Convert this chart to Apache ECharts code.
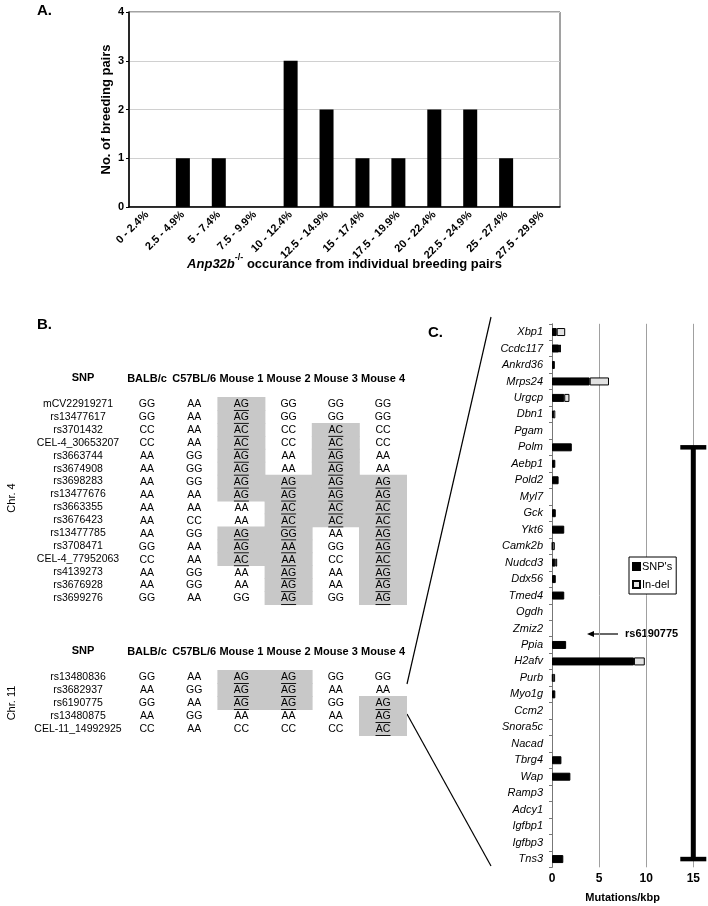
<!DOCTYPE html>
<html>
<head>
<meta charset="utf-8">
<script src="https://cdn.jsdelivr.net/npm/echarts@6/dist/echarts.min.js"></script>
<style>html,body{margin:0;padding:0;background:#fff}#c{width:708px;height:906px}</style>
</head>
<body>
<div id="c"></div>
<script>
// ---------- Panel A data ----------
const aCategories = ['0 - 2.4%', '2.5 - 4.9%', '5 - 7.4%', '7.5 - 9.9%', '10 - 12.4%', '12.5 - 14.9%',
  '15 - 17.4%', '17.5 - 19.9%', '20 - 22.4%', '22.5 - 24.9%', '25 - 27.4%', '27.5 - 29.9%'];
const aCounts = [0, 1, 1, 0, 3, 2, 1, 1, 2, 2, 1, 0];

// ---------- Panel B data ----------
const tableColumns = ['BALB/c', 'C57BL/6', 'Mouse 1', 'Mouse 2', 'Mouse 3', 'Mouse 4'];
const chr4SNPs = ['mCV22919271', 'rs13477617', 'rs3701432', 'CEL-4_30653207', 'rs3663744', 'rs3674908',
  'rs3698283', 'rs13477676', 'rs3663355', 'rs3676423', 'rs13477785', 'rs3708471', 'CEL-4_77952063',
  'rs4139273', 'rs3676928', 'rs3699276'];
const chr4Genotypes = [
  ['GG', 'AA', 'AG', 'GG', 'GG', 'GG'],
  ['GG', 'AA', 'AG', 'GG', 'GG', 'GG'],
  ['CC', 'AA', 'AC', 'CC', 'AC', 'CC'],
  ['CC', 'AA', 'AC', 'CC', 'AC', 'CC'],
  ['AA', 'GG', 'AG', 'AA', 'AG', 'AA'],
  ['AA', 'GG', 'AG', 'AA', 'AG', 'AA'],
  ['AA', 'GG', 'AG', 'AG', 'AG', 'AG'],
  ['AA', 'AA', 'AG', 'AG', 'AG', 'AG'],
  ['AA', 'AA', 'AA', 'AC', 'AC', 'AC'],
  ['AA', 'CC', 'AA', 'AC', 'AC', 'AC'],
  ['AA', 'GG', 'AG', 'GG', 'AA', 'AG'],
  ['GG', 'AA', 'AG', 'AA', 'GG', 'AG'],
  ['CC', 'AA', 'AC', 'AA', 'CC', 'AC'],
  ['AA', 'GG', 'AA', 'AG', 'AA', 'AG'],
  ['AA', 'GG', 'AA', 'AG', 'AA', 'AG'],
  ['GG', 'AA', 'GG', 'AG', 'GG', 'AG']
];
const chr4Shaded = [
  [0, 0, 1, 0, 0, 0], [0, 0, 1, 0, 0, 0], [0, 0, 1, 0, 1, 0], [0, 0, 1, 0, 1, 0],
  [0, 0, 1, 0, 1, 0], [0, 0, 1, 0, 1, 0], [0, 0, 1, 1, 1, 1], [0, 0, 1, 1, 1, 1],
  [0, 0, 0, 1, 1, 1], [0, 0, 0, 1, 1, 1], [0, 0, 1, 1, 0, 1], [0, 0, 1, 1, 0, 1],
  [0, 0, 1, 1, 0, 1], [0, 0, 0, 1, 0, 1], [0, 0, 0, 1, 0, 1], [0, 0, 0, 1, 0, 1]
];
const chr11SNPs = ['rs13480836', 'rs3682937', 'rs6190775', 'rs13480875', 'CEL-11_14992925'];
const chr11Genotypes = [
  ['GG', 'AA', 'AG', 'AG', 'GG', 'GG'],
  ['AA', 'GG', 'AG', 'AG', 'AA', 'AA'],
  ['GG', 'AA', 'AG', 'AG', 'GG', 'AG'],
  ['AA', 'GG', 'AA', 'AA', 'AA', 'AG'],
  ['CC', 'AA', 'CC', 'CC', 'CC', 'AC']
];
const chr11Shaded = [
  [0, 0, 1, 1, 0, 0], [0, 0, 1, 1, 0, 0], [0, 0, 1, 1, 0, 1], [0, 0, 0, 0, 0, 1], [0, 0, 0, 0, 0, 1]
];

// ---------- Panel C data ----------
const genes = ['Xbp1', 'Ccdc117', 'Ankrd36', 'Mrps24', 'Urgcp', 'Dbn1', 'Pgam', 'Polm', 'Aebp1', 'Pold2',
  'Myl7', 'Gck', 'Ykt6', 'Camk2b', 'Nudcd3', 'Ddx56', 'Tmed4', 'Ogdh', 'Zmiz2', 'Ppia', 'H2afv', 'Purb',
  'Myo1g', 'Ccm2', 'Snora5c', 'Nacad', 'Tbrg4', 'Wap', 'Ramp3', 'Adcy1', 'Igfbp1', 'Igfbp3', 'Tns3'];
const snpValues = [0.5, 0.75, 0.3, 4.0, 1.3, 0.1, 0, 2.1, 0.35, 0.7, 0, 0.4, 1.3, 0.05, 0.35, 0.4, 1.3,
  0, 0, 1.5, 8.7, 0.08, 0.35, 0, 0, 0, 1.0, 1.95, 0, 0, 0, 0, 1.2];
const indelValues = [0.9, 0.2, 0, 2.05, 0.55, 0.25, 0, 0, 0, 0, 0, 0, 0, 0.25, 0.2, 0, 0,
  0, 0, 0, 1.15, 0.25, 0, 0, 0, 0, 0, 0, 0, 0, 0, 0, 0];
const xTicksC = [0, 15, 5];           // min, max, interval
const regionBar = { x: 15, from: 'Polm', to: 'Tns3' };

// ---------- build ----------
const FONT = '"Liberation Sans", Arial, sans-serif';
function cells(genos, shaded) {
  const out = [];
  genos.forEach((row, r) => row.forEach((g, c) => out.push({ value: [c, r], text: g, shaded: shaded[r][c] })));
  return out;
}
const cells4 = cells(chr4Genotypes, chr4Shaded);
const cells11 = cells(chr11Genotypes, chr11Shaded);

function shadeSeries(list, xi) {
  return {
    type: 'custom', xAxisIndex: xi, yAxisIndex: xi, z: 1, silent: true,
    data: list.map(d => d.value), encode: { x: 0, y: 1 },
    renderItem: function (params, api) {
      const d = list[params.dataIndex];
      if (!d.shaded) return null;
      const p = api.coord([api.value(0), api.value(1)]);
      const s = api.size([1, 1]);
      return { type: 'rect', shape: { x: p[0] - s[0] / 2 - 0.4, y: p[1] - s[1] / 2 - 0.4, width: s[0] + 0.8, height: s[1] + 0.8 },
        style: { fill: '#c8c8c8' } };
    }
  };
}
function textSeries(list, xi) {
  return {
    type: 'custom', xAxisIndex: xi, yAxisIndex: xi, z: 3, silent: true,
    data: list.map(d => d.value), encode: { x: 0, y: 1 },
    renderItem: function (params, api) {
      const d = list[params.dataIndex];
      const p = api.coord([api.value(0), api.value(1)]);
      const ch = [{ type: 'text', x: p[0], y: p[1] + 0.5,
        style: { text: d.text, fill: '#000', font: '10.5px ' + FONT, align: 'center', verticalAlign: 'middle' } }];
      if (d.shaded) ch.push({ type: 'line', shape: { x1: p[0] - 7.5, y1: p[1] + 6.5, x2: p[0] + 7.5, y2: p[1] + 6.5 },
        style: { stroke: '#000', lineWidth: 0.9 } });
      return { type: 'group', children: ch };
    }
  };
}
function tableX(gi) {
  return { gridIndex: gi, type: 'category', data: tableColumns, position: 'top',
    axisLine: { show: false }, axisTick: { show: false }, splitLine: { show: false },
    axisLabel: { interval: 0, fontSize: 11, fontWeight: 'bold', color: '#000', margin: 13, fontFamily: FONT } };
}
function tableY(gi, names) {
  return { gridIndex: gi, type: 'category', data: names, inverse: true,
    axisLine: { show: false }, axisTick: { show: false }, splitLine: { show: false },
    axisLabel: { interval: 0, fontSize: 10.5, color: '#000', align: 'center', margin: 45.4, fontFamily: FONT } };
}

const option = {
  animation: false,
  textStyle: { fontFamily: FONT, color: '#000' },
  grid: [
    { left: 129, top: 12, width: 431, height: 195, show: true, borderColor: '#444', borderWidth: 1, outerBoundsMode: 'none' },
    { left: 552, top: 323.8, width: 141.3, height: 543.5, outerBoundsMode: 'none' },
    { left: 123.4, top: 397.5, width: 283.2, height: 207, outerBoundsMode: 'none' },
    { left: 123.4, top: 670.5, width: 283.2, height: 65, outerBoundsMode: 'none' }
  ],
  xAxis: [
    { gridIndex: 0, type: 'category', data: aCategories,
      axisLine: { lineStyle: { color: '#000', width: 1.5 } }, axisTick: { show: false },
      axisLabel: { interval: 0, rotate: 45, fontSize: 11, fontWeight: 'bold', color: '#000', margin: 6 },
      name: '{i|Anp32b}{s|-/-}{n| occurance from individual breeding pairs}',
      nameLocation: 'middle', nameGap: 46, nameMoveOverlap: false,
      nameTextStyle: { rich: {
        i: { fontSize: 13, fontWeight: 'bold', fontStyle: 'italic', color: '#000', lineHeight: 18, verticalAlign: 'bottom' },
        s: { fontSize: 9, fontWeight: 'bold', color: '#000', lineHeight: 18, verticalAlign: 'top' },
        n: { fontSize: 13, fontWeight: 'bold', color: '#000', lineHeight: 18, verticalAlign: 'bottom' } } } },
    { gridIndex: 1, type: 'value', min: xTicksC[0], max: xTicksC[1], interval: xTicksC[2],
      axisLine: { show: false }, axisTick: { show: false },
      axisLabel: { fontSize: 12, fontWeight: 'bold', color: '#000', margin: 5 },
      splitLine: { show: true, lineStyle: { color: '#a0a0a0', width: 1 } },
      name: 'Mutations/kbp', nameLocation: 'middle', nameGap: 25,
      nameTextStyle: { fontSize: 11, fontWeight: 'bold', color: '#000' } },
    tableX(2), tableX(3)
  ],
  yAxis: [
    { gridIndex: 0, type: 'value', min: 0, max: 4, interval: 1,
      axisLine: { show: true, lineStyle: { color: '#000', width: 1.5 } },
      axisTick: { show: true, length: 3, lineStyle: { color: '#000' } },
      axisLabel: { fontSize: 11, fontWeight: 'bold', color: '#000', margin: 5 },
      splitLine: { show: true, lineStyle: { color: '#d0d0d0' } },
      name: 'No. of breeding pairs', nameLocation: 'middle', nameGap: 16, nameMoveOverlap: false,
      nameTextStyle: { fontSize: 13, fontWeight: 'bold', color: '#000' } },
    { gridIndex: 1, type: 'category', data: genes, inverse: true,
      axisLine: { show: true, lineStyle: { color: '#777' } },
      axisTick: { show: true, length: 3, lineStyle: { color: '#777' } },
      splitLine: { show: false },
      axisLabel: { interval: 0, fontSize: 11, fontStyle: 'italic', color: '#000', margin: 9 } },
    tableY(2, chr4SNPs), tableY(3, chr11SNPs)
  ],
  legend: {
    data: ["SNP's", 'In-del'], orient: 'vertical', left: 629, top: 557,
    itemWidth: 7, itemHeight: 7, itemGap: 7, icon: 'rect',
    textStyle: { fontSize: 11, color: '#000', padding: [0, 0, 0, -3] },
    borderColor: '#000', borderWidth: 1, backgroundColor: '#fff', padding: [4, 4, 4, 3], borderRadius: 0
  },
  series: [
    { type: 'bar', xAxisIndex: 0, yAxisIndex: 0, data: aCounts, barWidth: 14,
      itemStyle: { color: '#000' } },
    { name: "SNP's", type: 'bar', xAxisIndex: 1, yAxisIndex: 1, stack: 'mut', barWidth: 8,
      data: snpValues.map(v => v === 0 ? '-' : v),
      itemStyle: { color: '#000', borderColor: '#000', borderWidth: 1 } },
    { name: 'In-del', type: 'bar', xAxisIndex: 1, yAxisIndex: 1, stack: 'mut', barWidth: 8,
      data: indelValues.map(v => v === 0 ? '-' : v),
      itemStyle: { color: '#e2e2e2', borderColor: '#000', borderWidth: 1 } },
    { type: 'custom', xAxisIndex: 1, yAxisIndex: 1, clip: false, silent: true, z: 5,
      data: [[regionBar.x, genes.indexOf(regionBar.from), genes.indexOf(regionBar.to)]],
      encode: { x: 0, y: [1, 2] },
      renderItem: function (params, api) {
        const t = api.coord([api.value(0), api.value(1)]);
        const b = api.coord([api.value(0), api.value(2)]);
        return { type: 'group', children: [
          { type: 'line', shape: { x1: t[0], y1: t[1], x2: b[0], y2: b[1] }, style: { stroke: '#000', lineWidth: 5 } },
          { type: 'line', shape: { x1: t[0] - 13, y1: t[1], x2: t[0] + 13, y2: t[1] }, style: { stroke: '#000', lineWidth: 4.5 } },
          { type: 'line', shape: { x1: b[0] - 13, y1: b[1], x2: b[0] + 13, y2: b[1] }, style: { stroke: '#000', lineWidth: 4.5 } }
        ] };
      } },
    shadeSeries(cells4, 2), textSeries(cells4, 2),
    shadeSeries(cells11, 3), textSeries(cells11, 3)
  ],
  graphic: [
    { type: 'text', left: 37, top: 3, style: { text: 'A.', font: 'bold 15px ' + FONT, fill: '#000' } },
    { type: 'text', left: 37, top: 317, style: { text: 'B.', font: 'bold 15px ' + FONT, fill: '#000' } },
    { type: 'text', left: 428, top: 325, style: { text: 'C.', font: 'bold 15px ' + FONT, fill: '#000' } },
    { type: 'text', x: 83, y: 378, style: { text: 'SNP', font: 'bold 11px ' + FONT, fill: '#000', align: 'center', verticalAlign: 'middle' } },
    { type: 'text', x: 83, y: 651, style: { text: 'SNP', font: 'bold 11px ' + FONT, fill: '#000', align: 'center', verticalAlign: 'middle' } },
    { type: 'text', x: 12, y: 498, rotation: Math.PI / 2, style: { text: 'Chr. 4', font: '11px ' + FONT, fill: '#000', align: 'center', verticalAlign: 'middle' } },
    { type: 'text', x: 12, y: 703, rotation: Math.PI / 2, style: { text: 'Chr. 11', font: '11px ' + FONT, fill: '#000', align: 'center', verticalAlign: 'middle' } },
    { type: 'line', shape: { x1: 491, y1: 317, x2: 407, y2: 684 }, style: { stroke: '#000', lineWidth: 1.2 } },
    { type: 'line', shape: { x1: 407, y1: 714, x2: 491, y2: 866 }, style: { stroke: '#000', lineWidth: 1.2 } },
    { type: 'line', shape: { x1: 618, y1: 634, x2: 592, y2: 634 }, style: { stroke: '#000', lineWidth: 1.2 } },
    { type: 'polygon', shape: { points: [[587, 634], [594, 631], [594, 637]] }, style: { fill: '#000' } },
    { type: 'text', x: 625, y: 634, style: { text: 'rs6190775', font: 'bold 11px ' + FONT, fill: '#000', verticalAlign: 'middle' } }
  ]
};
const chart = echarts.init(document.getElementById('c'), null, { renderer: 'canvas' });
chart.setOption(option);
</script>
</body>
</html>
